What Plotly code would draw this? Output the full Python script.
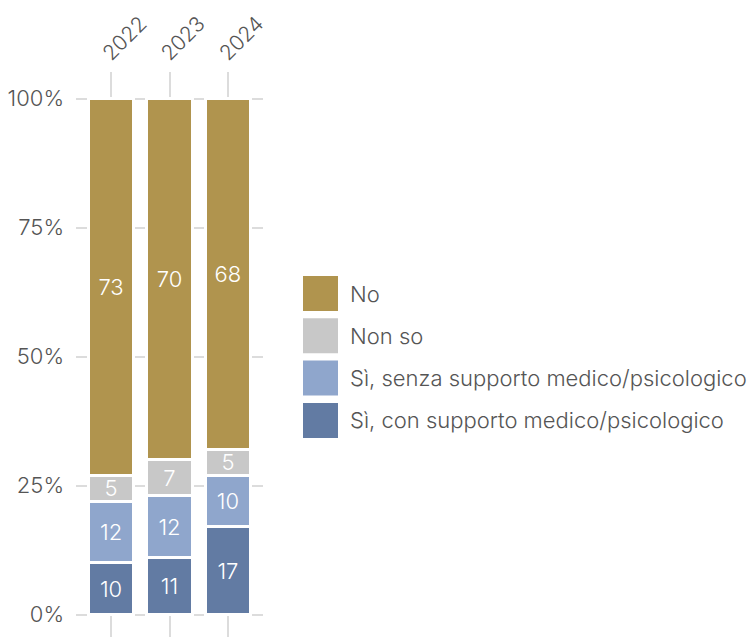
import plotly.graph_objects as go

# Survey data (percent of respondents per year)
years = ["2022", "2023", "2024"]
si_con = [10, 11, 17]        # Sì, con supporto medico/psicologico
si_senza = [12, 12, 10]      # Sì, senza supporto medico/psicologico
non_so = [5, 7, 5]           # Non so
no = [73, 70, 68]            # No
y_ticks = [0, 25, 50, 75, 100]
y_tick_labels = ["0%", "25%", "50%", "75%", "100%"]

series = [
    ("Sì, con supporto medico/psicologico", si_con, "#627ba3"),
    ("Sì, senza supporto medico/psicologico", si_senza, "#8fa6cc"),
    ("Non so", non_so, "#c8c8c8"),
    ("No", no, "#b0944e"),
]

W, H = 753, 637
ML, MR, MT, MB = 76, 753 - 263, 72, 0
FONT = "Inter"
GRAY = "#555555"

fig = go.Figure()
for name, vals, color in series:
    fig.add_trace(go.Bar(
        x=years, y=vals, name=name,
        marker=dict(color=color, line=dict(color="white", width=3)),
        text=vals, texttemplate="%{text}",
        textposition="inside", insidetextanchor="middle",
        constraintext="none", textangle=0,
        textfont=dict(color="white", size=22, family=FONT, weight=300),
        showlegend=False, hoverinfo="skip",
    ))

# pixel -> paper coordinate helpers for the side legend
pw = W - ML - MR
ph = H - MT - MB
def px_x(x):
    return (x - ML) / pw
def px_y(y):
    return 1 - (y - MT) / ph

legend_order = ["No", "Non so", "Sì, senza supporto medico/psicologico",
                "Sì, con supporto medico/psicologico"]
colors = {n: c for n, _, c in series}
shapes = []
annotations = []
for i, name in enumerate(legend_order):
    top = 276 + i * 42.3
    shapes.append(dict(type="rect", xref="paper", yref="paper",
                       x0=px_x(303), x1=px_x(338), y0=px_y(top + 35), y1=px_y(top),
                       fillcolor=colors[name], line=dict(width=0)))
    annotations.append(dict(xref="paper", yref="paper", x=px_x(348), y=px_y(top + 17.5),
                            text=name, showarrow=False, xanchor="left", yanchor="middle",
                            font=dict(family=FONT, size=22, color=GRAY, weight=300)))

fig.update_layout(
    barmode="stack",
    bargap=0.224,
    width=W, height=H,
    margin=dict(l=ML, r=MR, t=MT, b=MB, pad=0),
    paper_bgcolor="white", plot_bgcolor="white",
    shapes=shapes, annotations=annotations,
    showlegend=False,
    xaxis=dict(
        side="top", type="category", range=[-0.6, 2.6],
        tickangle=-45, tickfont=dict(family=FONT, size=21, color=GRAY, weight=300),
        showgrid=True, gridcolor="#dcdcdc", gridwidth=1.5,
        showline=False, zeroline=False, ticks="", ticklabelstandoff=2,
        ticklabelshift=-7, automargin=False,
    ),
    yaxis=dict(
        range=[-4.36, 105.18], tickvals=y_ticks, ticktext=y_tick_labels,
        tickfont=dict(family=FONT, size=22, color=GRAY, weight=300),
        showgrid=True, gridcolor="#dcdcdc", gridwidth=1.5,
        showline=False, zeroline=False, ticks="", ticklabelstandoff=11,
        automargin=False,
    ),
)

fig.write_html("out.html")
